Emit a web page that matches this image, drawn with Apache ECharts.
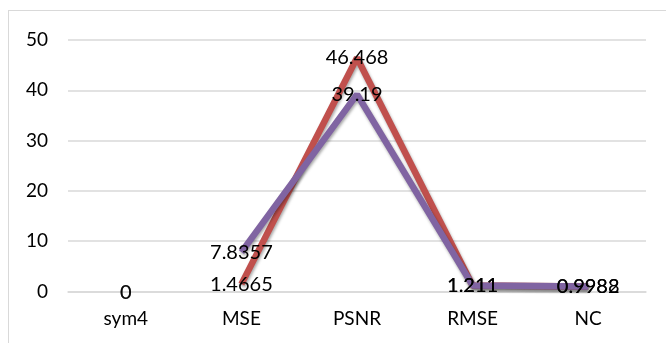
<!DOCTYPE html>
<html>
<head>
<meta charset="utf-8">
<script src="https://cdn.jsdelivr.net/npm/echarts@6/dist/echarts.min.js"></script>
<style>
  html, body { margin: 0; padding: 0; background: #fff; }
  #frame { position: absolute; left: 8px; top: 10px; width: 700px; height: 400px; border: 1.5px solid #d9d9d9; box-sizing: border-box; }
  #chart { position: absolute; left: 0; top: 0; width: 666px; height: 343px; }
</style>
</head>
<body>
<div id="frame"></div>
<div id="chart"></div>
<script>
// Metric names along the x axis
const categories = ['sym4', 'MSE', 'PSNR', 'RMSE', 'NC'];
// Values for the two methods (first entry is the sym4 header row, shown only as a label)
const seriesRed = [0, 1.4665, 46.468, 1.211, 0.9988];
const seriesPurple = [0, 7.8357, 39.19, 1.211, 0.9982];
// Y axis ticks
const yMin = 0, yMax = 50, yStep = 10;

const font = 'Lato, "Open Sans", sans-serif';
const labelStyle = { show: true, position: 'inside', offset: [0, 1], color: '#000', fontSize: 20, fontFamily: font };

function lineData(vals) {
  return vals.map((v, i) => (i === 0 ? '-' : v));
}
function headerData(vals) {
  return vals.map((v, i) => (i === 0 ? v : '-'));
}
function lineSeries(name, vals, color) {
  return {
    name, type: 'line', data: lineData(vals),
    symbol: 'circle', symbolSize: 1, showSymbol: true, showAllSymbol: true,
    itemStyle: { color: 'transparent', borderWidth: 0 },
    connectNulls: false,
    lineStyle: { color, width: 6.5, shadowColor: 'rgba(0,0,0,0.35)', shadowBlur: 3, shadowOffsetX: 1, shadowOffsetY: 2 },
    label: labelStyle, labelLayout: { hideOverlap: false },
    z: 2
  };
}
function headerSeries(name, vals) {
  return {
    name, type: 'scatter', data: headerData(vals),
    symbolSize: 0, label: labelStyle, z: 3
  };
}

const chart = echarts.init(document.getElementById('chart'), null, { renderer: 'canvas' });
chart.setOption({
  animation: false,
  grid: { left: 68, right: 20, top: 40, bottom: 51.5 },
  xAxis: {
    type: 'category', data: categories, boundaryGap: true,
    axisLine: { show: true, lineStyle: { color: '#d9d9d9', width: 1.5 } },
    axisTick: { show: false },
    axisLabel: { color: '#000', fontSize: 19, fontFamily: font, margin: 18 }
  },
  yAxis: {
    type: 'value', min: yMin, max: yMax, interval: yStep,
    axisLine: { show: false }, axisTick: { show: false },
    splitLine: { lineStyle: { color: '#d9d9d9', width: 1.5 } },
    axisLabel: { color: '#000', fontSize: 19, fontFamily: font, margin: 20 }
  },
  series: [
    lineSeries('A', seriesRed, '#c0504d'),
    lineSeries('B', seriesPurple, '#8064a2'),
    headerSeries('A0', seriesRed),
    headerSeries('B0', seriesPurple)
  ]
});
</script>
</body>
</html>
